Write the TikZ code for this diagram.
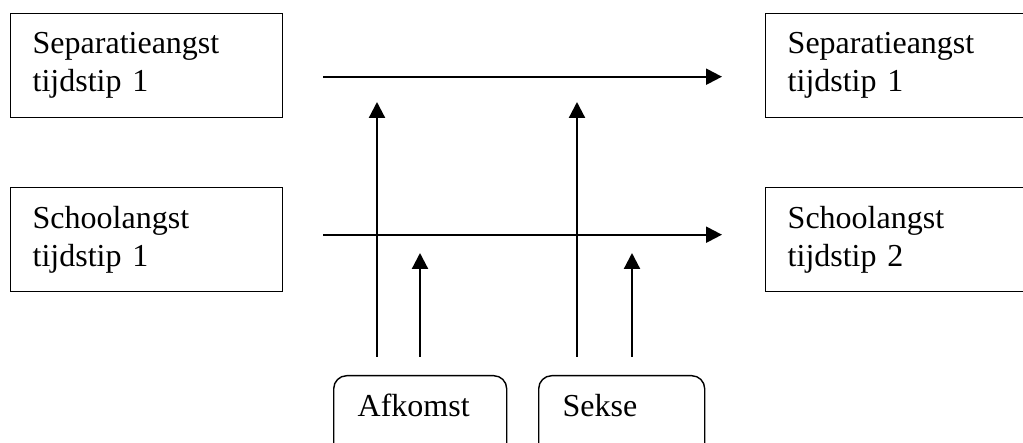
\documentclass[tikz,border=0pt]{standalone}
\usepackage{fontspec}
\setmainfont{Liberation Serif}
\usetikzlibrary{arrows.meta}
\begin{document}
\begin{tikzpicture}[x=1pt,y=-1pt,
  every node/.style={font=\fontsize{32}{38}\selectfont},
  varbox/.style={draw, line width=1.4pt, rectangle, anchor=north west,
    inner xsep=22pt, inner ysep=0pt, align=left, text width=228pt,
    minimum height=104pt},
  covbox/.style={draw, line width=1.4pt, rounded corners=13pt, anchor=north west,
    inner xsep=24pt, inner ysep=0pt, align=left, text height=41pt, text depth=44pt},
  effect/.style={line width=2.2pt, -{Triangle[length=16pt,width=16pt]}}]
\useasboundingbox (0,0) rectangle (1023,443);
% predictors (left) and outcomes (right)
\node[varbox] (sep1) at (10,13) {Separatieangst\\tijdstip 1};
\node[varbox] (sch1) at (10,187) {Schoolangst\\tijdstip 1};
\node[varbox, text width=236pt] (sep2) at (765,13) {Separatieangst\\tijdstip 1};
\node[varbox, text width=236pt] (sch2) at (765,187) {Schoolangst\\tijdstip 2};
% covariates
\node[covbox, text width=125pt] (afk) at (333,375) {Afkomst};
\node[covbox, text width=118pt] (sek) at (538,375) {Sekse};
% tips of the covariate arrows
\coordinate (t1) at (377,102);
\coordinate (t2) at (420,253);
\coordinate (t3) at (577,102);
\coordinate (t4) at (632,253);
% paths over time
\draw[effect, shorten <=40pt, shorten >=43pt]
  ([yshift=-11pt]sep1.east) -- ([yshift=-11pt]sep2.west);
\draw[effect, shorten <=40pt, shorten >=43pt]
  ([yshift=5pt]sch1.east) -- ([yshift=5pt]sch2.west);
% covariate effects
\draw[effect] ([xshift=44pt,yshift=18pt]afk.north west) -- (t1);
\draw[effect] ([xshift=87pt,yshift=18pt]afk.north west) -- (t2);
\draw[effect] ([xshift=39pt,yshift=18pt]sek.north west) -- (t3);
\draw[effect] ([xshift=94pt,yshift=18pt]sek.north west) -- (t4);
\end{tikzpicture}
\end{document}
